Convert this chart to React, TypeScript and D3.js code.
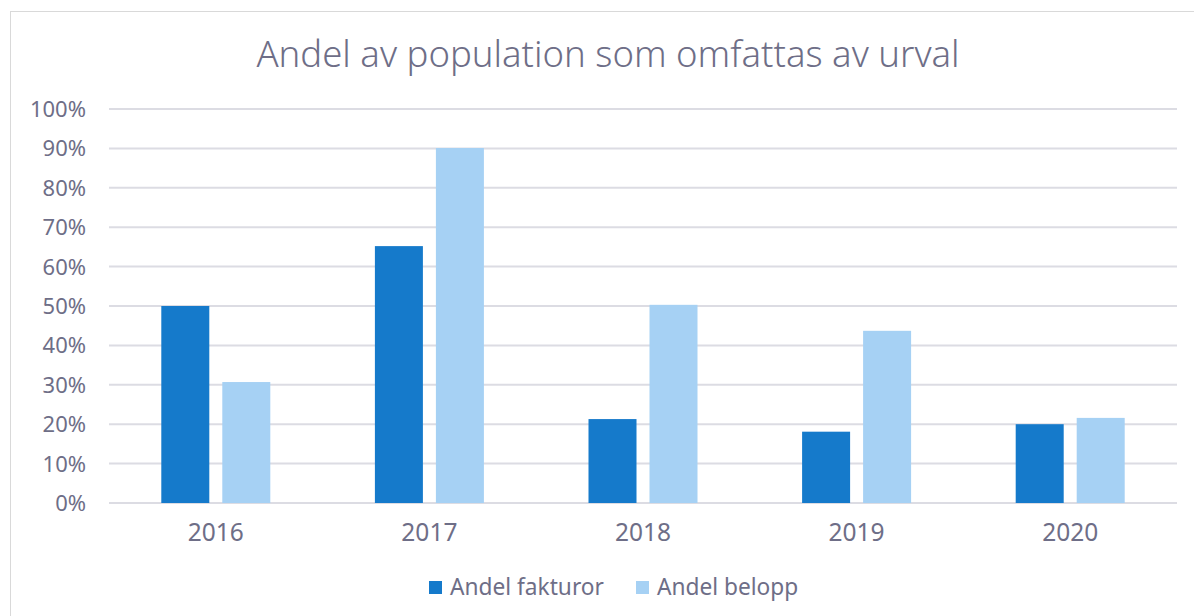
import * as React from "react";
import * as d3 from "d3";

const years = ["2016", "2017", "2018", "2019", "2020"];
const andelFakturor = [0.5, 0.652, 0.213, 0.181, 0.2];
const andelBelopp = [0.307, 0.901, 0.503, 0.437, 0.216];
const yTicks = [0, 0.1, 0.2, 0.3, 0.4, 0.5, 0.6, 0.7, 0.8, 0.9, 1];
const seriesNames = ["Andel fakturor", "Andel belopp"];
const colors = ["#157ACB", "#A6D1F4"];

const W = 1194;
const H = 616;
const textColor = "#6E6E87";
const font = "'Noto Sans', sans-serif";

export default function App() {
  const left = 109;
  const right = 1177;
  const top = 109;
  const bottom = 503;

  const x = d3.scaleBand().domain(years).range([left, right]);
  const y = d3.scaleLinear().domain([0, 1]).range([bottom, top]);
  const barW = 48;
  const gap = 13;
  const series = [andelFakturor, andelBelopp];

  return (
    <svg width={W} height={H} style={{ position: "absolute", left: 0, top: 0 }}>
      <rect x={0} y={0} width={W} height={H} fill="#fff" />
      <rect x={10.5} y={11.5} width={W} height={H} fill="none" stroke="#D9D9D9" />
      <text x={608} y={67} textAnchor="middle" fontFamily={font} fontSize={36.5} fill={textColor} fontWeight={300}>
        Andel av population som omfattas av urval
      </text>
      {yTicks.map((t) => (
        <g key={t}>
          <line x1={left} x2={right} y1={y(t)} y2={y(t)} stroke="#DCDCE3" strokeWidth={2} />
          <text x={86} y={y(t) + 8} textAnchor="end" fontFamily={font} fontSize={22} fill={textColor}>
            {d3.format(".0%")(t)}
          </text>
        </g>
      ))}
      {years.map((yr, i) => {
        const cx = x(yr)! + x.bandwidth() / 2;
        return (
          <g key={yr}>
            {series.map((s, j) => {
              const bx = cx - barW - gap / 2 + j * (barW + gap);
              return (
                <rect key={j} x={bx} y={y(s[i])} width={barW} height={y(0) - y(s[i])} fill={colors[j]} />
              );
            })}
            <text x={cx} y={541} textAnchor="middle" fontFamily={font} fontSize={24.5} fill={textColor}>
              {yr}
            </text>
          </g>
        );
      })}
      {seriesNames.map((n, j) => {
        const lx = j === 0 ? 429 : 636;
        return (
          <g key={n}>
            <rect x={lx} y={581} width={13} height={13} fill={colors[j]} />
            <text x={lx + 21} y={595} fontFamily={font} fontSize={22.7} fill={textColor}>
              {n}
            </text>
          </g>
        );
      })}
    </svg>
  );
}
